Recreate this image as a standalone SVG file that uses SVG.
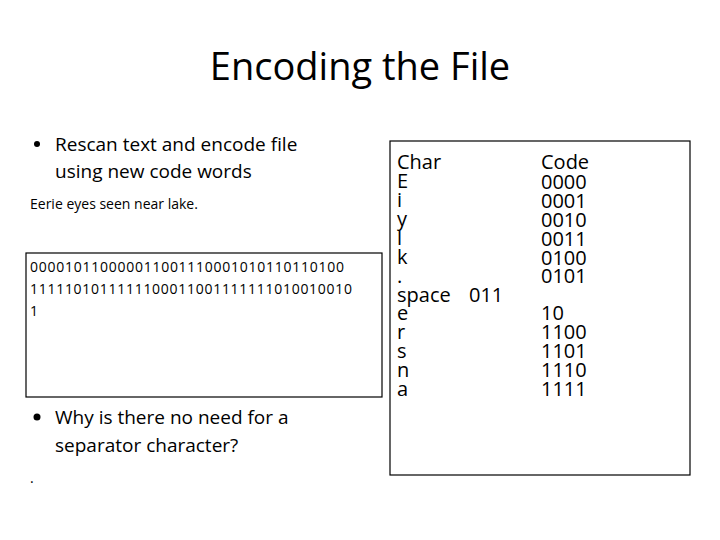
<svg xmlns="http://www.w3.org/2000/svg" width="720" height="540" viewBox="0 0 720 540">
<style>
text{font-family:"Open Sans","Liberation Sans",sans-serif;fill:#000}
.t{font-size:20px}
.b{font-size:14px}
.box{fill:#fff;stroke:#000;stroke-width:1.2}
</style>
<rect width="720" height="540" fill="#fff"/>
<g id="title"><text x="360" y="80" text-anchor="middle" font-size="38">Encoding the File</text></g>
<g id="bullet1">
<circle cx="37" cy="144" r="3"/>
<text x="55" y="151" font-size="19">Rescan text and encode file</text>
<text x="55" y="178" font-size="19">using new code words</text>
<text x="30" y="209" font-size="14">Eerie eyes seen near lake.</text>
</g>
<g id="bits">
<rect class="box" x="26" y="253" width="356" height="144"/>
<text class="b" x="30" y="272" textLength="314">000010110000011001110001010110110100</text>
<text class="b" x="30" y="294" textLength="322">1111101011111100011001111111010010010</text>
<text class="b" x="30" y="316">1</text>
</g>
<g id="bullet2">
<circle cx="37" cy="417" r="3.5"/>
<text x="55" y="424" font-size="19">Why is there no need for a</text>
<text x="55" y="452" font-size="19">separator character?</text>
<text x="30" y="483" font-size="14">.</text>
</g>
<g id="table">
<rect class="box" x="390" y="141" width="300" height="334"/>
<text x="397" y="169" class="t">Char</text>
<text x="397" y="188" class="t">E</text>
<text x="397" y="207" class="t">i</text>
<text x="397" y="226" class="t">y</text>
<text x="397" y="245" class="t">l</text>
<text x="397" y="264" class="t">k</text>
<text x="397" y="283" class="t">.</text>
<text x="397" y="302" class="t">space<tspan x="469">011</tspan></text>
<text x="397" y="320" class="t">e</text>
<text x="397" y="339" class="t">r</text>
<text x="397" y="358" class="t">s</text>
<text x="397" y="377" class="t">n</text>
<text x="397" y="396" class="t">a</text>
<text x="541" y="169" class="t">Code</text>
<text x="541" y="189" class="t">0000</text>
<text x="541" y="208" class="t">0001</text>
<text x="541" y="227" class="t">0010</text>
<text x="541" y="246" class="t">0011</text>
<text x="541" y="265" class="t">0100</text>
<text x="541" y="283" class="t">0101</text>
<text x="541" y="320" class="t">10</text>
<text x="541" y="339" class="t">1100</text>
<text x="541" y="358" class="t">1101</text>
<text x="541" y="377" class="t">1110</text>
<text x="541" y="396" class="t">1111</text>
</g>
</svg>
